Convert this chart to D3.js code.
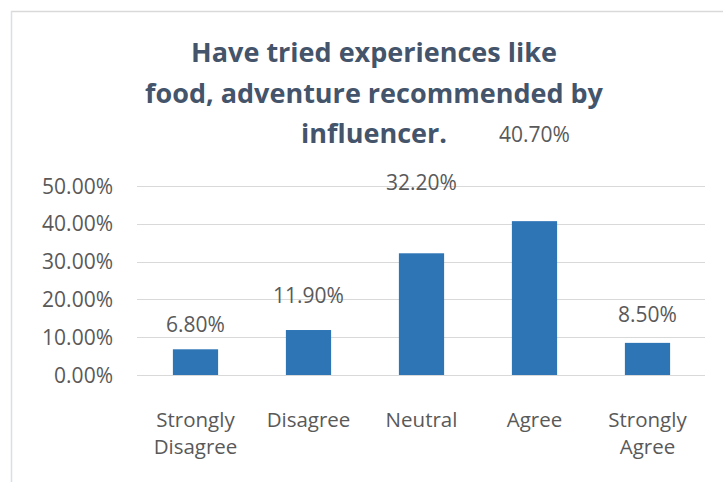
<!DOCTYPE html>
<html>
<head>
<meta charset="utf-8">
<script src="https://cdn.jsdelivr.net/npm/d3@7"></script>
<style>
  html, body { margin: 0; padding: 0; background: #ffffff; }
  svg { display: block; }
  text { font-family: "Open Sans", "Noto Sans", sans-serif; }
</style>
</head>
<body>
<svg id="chart" width="723" height="482"></svg>
<script>
// Survey responses
const categories = ["Strongly Disagree", "Disagree", "Neutral", "Agree", "Strongly Agree"];
const values = [6.8, 11.9, 32.2, 40.7, 8.5];          // percent of respondents
const yTicks = [0, 10, 20, 30, 40, 50];
const titleLines = [
  "Have tried experiences like",
  "food, adventure recommended by",
  "influencer."
];

const W = 723, H = 482;
const svg = d3.select("#chart");

// chart frame
svg.append("line").attr("x1", 11).attr("x2", W).attr("y1", 11.5).attr("y2", 11.5)
  .attr("stroke", "#d9d9d9").attr("stroke-width", 1.5);
svg.append("line").attr("x1", 11.5).attr("x2", 11.5).attr("y1", 11).attr("y2", H)
  .attr("stroke", "#dadfe6").attr("stroke-width", 1.5);

const x = d3.scaleBand()
  .domain(categories)
  .range([139, 704])
  .paddingInner(0.6)
  .paddingOuter(0.3);

const y = d3.scaleLinear().domain([0, 50]).range([375, 186]);

// data labels sit on their own vertical scale above the bars
const labelY = d3.scaleLinear().domain([0, 50]).range([370, 90]);

const fmt = v => d3.format(".2f")(v) + "%";

// gridlines
svg.append("g").selectAll("line")
  .data(yTicks)
  .join("line")
  .attr("x1", 137).attr("x2", 705)
  .attr("y1", d => Math.round(y(d)) + 0.5)
  .attr("y2", d => Math.round(y(d)) + 0.5)
  .attr("stroke", "#d9d9d9")
  .attr("stroke-width", 1);

// y axis labels
svg.append("g").selectAll("text")
  .data(yTicks)
  .join("text")
  .attr("x", 113)
  .attr("y", d => y(d) + 7.5)
  .attr("text-anchor", "end")
  .attr("font-size", 21)
  .attr("fill", "#595959")
  .text(d => fmt(d));

// bars
svg.append("g").selectAll("rect")
  .data(values)
  .join("rect")
  .attr("x", (d, i) => x(categories[i]))
  .attr("width", x.bandwidth())
  .attr("y", d => y(d))
  .attr("height", d => y(0) - y(d))
  .attr("fill", "#2e75b6");

// value labels
svg.append("g").selectAll("text")
  .data(values)
  .join("text")
  .attr("x", (d, i) => x(categories[i]) + x.bandwidth() / 2)
  .attr("y", d => labelY(d))
  .attr("text-anchor", "middle")
  .attr("font-size", 21)
  .attr("fill", "#595959")
  .text(d => fmt(d));

// category labels, wrapped onto two lines where needed
const cat = svg.append("g").selectAll("text")
  .data(categories)
  .join("text")
  .attr("text-anchor", "middle")
  .attr("font-size", 20.5)
  .attr("fill", "#595959");
cat.each(function (d) {
  const cx = x(d) + x.bandwidth() / 2;
  const words = d.split(" ");
  d3.select(this).selectAll("tspan")
    .data(words)
    .join("tspan")
    .attr("x", cx)
    .attr("y", (w, j) => 427 + j * 27)
    .text(w => w);
});

// title
svg.append("g").selectAll("text")
  .data(titleLines)
  .join("text")
  .attr("x", 374)
  .attr("y", (d, i) => 62 + i * 40.5)
  .attr("text-anchor", "middle")
  .attr("font-size", 27)
  .attr("font-weight", "bold")
  .attr("fill", "#44546a")
  .text(d => d);
</script>
</body>
</html>
